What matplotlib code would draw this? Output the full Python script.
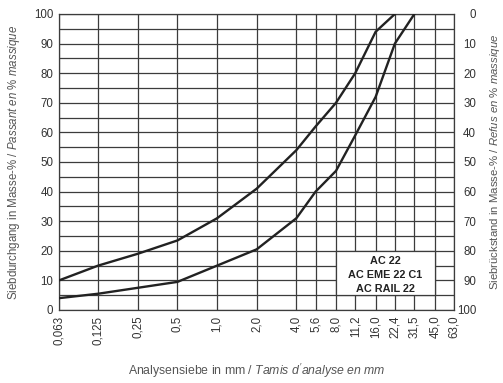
import matplotlib
matplotlib.use("Agg")
import matplotlib.pyplot as plt
from matplotlib.patches import Rectangle

plt.rcParams["font.family"] = ["Liberation Sans", "DejaVu Sans"]
plt.rcParams["mathtext.fontset"] = "custom"
plt.rcParams["mathtext.rm"] = "Liberation Sans"
plt.rcParams["mathtext.it"] = "Liberation Sans:italic"
plt.rcParams["mathtext.bf"] = "Liberation Sans:bold"

# sieve sizes (mm) and their printed labels
sieves = [0.063, 0.125, 0.25, 0.5, 1.0, 2.0, 4.0, 5.6, 8.0, 11.2, 16.0, 22.4, 31.5, 45.0, 63.0]
sieve_labels = ["0,063", "0,125", "0,25", "0,5", "1,0", "2,0", "4,0", "5,6", "8,0",
                "11,2", "16,0", "22,4", "31,5", "45,0", "63,0"]

# grading envelope, passing in mass-%
upper_x = [0.063, 0.125, 0.25, 0.5, 1.0, 2.0, 4.0, 5.6, 8.0, 11.2, 16.0, 22.4]
upper_y = [10, 15, 19, 23.5, 31, 41, 54, 62, 70, 80, 94, 100]
lower_x = [0.063, 0.125, 0.25, 0.5, 1.0, 2.0, 4.0, 5.6, 8.0, 11.2, 16.0, 22.4, 31.5]
lower_y = [4, 5.5, 7.5, 9.5, 15, 20.5, 31, 40, 47, 59, 72, 90, 100]

box_lines = ["AC 22", "AC EME 22 C1", "AC RAIL 22"]

GRID = "#3c3c3c"
TXT = "#333333"
LBL = "#555555"

fig = plt.figure(figsize=(5.03, 3.83), dpi=100)
ax = fig.add_axes([59 / 503, 1 - 310 / 383, (454 - 59) / 503, (310 - 14) / 383])

ax.set_xscale("log")
ax.set_xlim(sieves[0], sieves[-1])
ax.set_ylim(0, 100)

# grid: every sieve, every 5 %
for s in sieves:
    ax.axvline(s, color=GRID, lw=0.9, zorder=0.5)
for v in range(0, 101, 5):
    ax.axhline(v, color=GRID, lw=0.9, zorder=0.5)

ax.plot(upper_x, upper_y, color="#222222", lw=1.7, zorder=3, solid_joinstyle="round")
ax.plot(lower_x, lower_y, color="#222222", lw=1.7, zorder=3, solid_joinstyle="round")

# label box
ax.add_patch(Rectangle((8.0, 5), 45.0 - 8.0, 15, facecolor="white",
                       edgecolor=GRID, lw=0.9, zorder=1))
for txt, yv in zip(box_lines, [16.5, 11.8, 7.1]):
    ax.text(19.0, yv, txt, ha="center", va="center", fontsize=7.8,
            fontweight="bold", color="#222222", zorder=4)

ax.set_xticks(sieves)
ax.set_xticklabels(sieve_labels, rotation=90, fontsize=8, color=TXT)
ax.minorticks_off()
ax.set_yticks(range(0, 101, 10))
ax.tick_params(axis="both", length=0, labelsize=8.3, labelcolor=TXT)
ax.tick_params(axis="x", pad=4)
ax.tick_params(axis="y", pad=4)

for sp in ax.spines.values():
    sp.set_color(GRID)
    sp.set_linewidth(0.9)

ax2 = ax.twinx()
ax2.set_ylim(100, 0)
ax2.set_yticks(range(0, 101, 10))
ax2.tick_params(axis="y", length=0, labelsize=8.3, labelcolor=TXT, pad=16)
for lab in ax2.get_yticklabels():
    lab.set_horizontalalignment("right")
for sp in ax2.spines.values():
    sp.set_visible(False)

ax.set_ylabel(r"Siebdurchgang in Masse-% / $\mathit{Passant\ en\ \%\ massique}$",
              fontsize=8.3, color=LBL, labelpad=9)
ax2.set_ylabel(r"Siebrückstand in Masse-% / $\mathit{Refus\ en\ \%\ massique}$",
               fontsize=8.2, color=LBL)
ax2.yaxis.set_label_coords((488 - 59) / (454 - 59), 0.5)
ax.set_xlabel(r"Analysensiebe in mm / $\mathit{Tamis\ d'analyse\ en\ mm}$",
              fontsize=8.8, color=LBL, labelpad=12)

fig.savefig("out.png", dpi=100)
